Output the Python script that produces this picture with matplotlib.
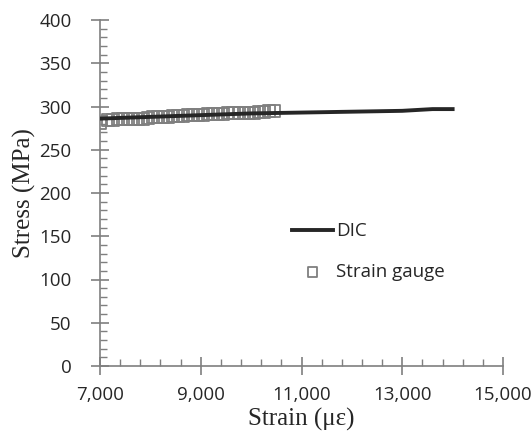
import numpy as np
import matplotlib.pyplot as plt
from matplotlib.ticker import FixedLocator, FuncFormatter

# DIC curve
dic_strain = [7000, 7500, 8000, 8500, 9000, 9500, 10000, 10500, 11000, 11500, 12000, 12500, 13000, 13300, 13600, 14000]
dic_stress = [286, 287, 288, 289, 290, 291, 292, 292.5, 293, 293.5, 294, 294.5, 295, 296, 297, 297]

# strain gauge readings
sg_strain = [7000, 7150, 7250, 7350, 7450, 7550, 7650, 7750, 7850, 7950, 8050, 8150, 8250, 8350,
             8450, 8550, 8650, 8750, 8850, 8950, 9050, 9150, 9250, 9350, 9450, 9550, 9650,
             9750, 9850, 9950, 10050, 10150, 10250, 10350, 10450]
sg_stress = [281, 284, 284, 285, 285, 285, 285, 286, 286, 287, 288, 288, 288, 288,
             289, 289, 289, 290, 290, 290, 290, 291, 291, 291, 291, 292, 292,
             292, 292, 292, 293, 294, 294, 295, 295]

x_major = [7000, 9000, 11000, 13000, 15000]

fig = plt.figure(figsize=(5.32, 4.42), dpi=100)
ax = fig.add_axes([100/532, 1 - 366/442, 403/532, 346/442])

ax.plot(dic_strain, dic_stress, color="#262626", lw=2.8, label="DIC", zorder=3)
ax.scatter(sg_strain, sg_stress, marker="s", s=75, facecolors="none", edgecolors="#7f7f7f",
           linewidths=1.3, label="Strain gauge", zorder=2)

ax.set_xlim(7000, 15000)
ax.set_ylim(0, 400)
ax.xaxis.set_major_locator(FixedLocator(x_major))
ax.xaxis.set_minor_locator(FixedLocator(np.arange(7000, 15001, 400)))
ax.yaxis.set_major_locator(FixedLocator(np.arange(0, 401, 50)))
ax.yaxis.set_minor_locator(FixedLocator(np.arange(0, 401, 10)))
ax.xaxis.set_major_formatter(FuncFormatter(lambda v, p: f"{int(v):,}"))

for s in ["top", "right"]:
    ax.spines[s].set_visible(False)
for s in ["left", "bottom"]:
    ax.spines[s].set_color("#7f7f7f")
    ax.spines[s].set_linewidth(1.2)

ax.tick_params(which="major", direction="inout", length=13, width=1.2, color="#7f7f7f",
               labelsize=13.5, labelcolor="#262626")
ax.tick_params(which="minor", direction="in", length=5, width=1, color="#7f7f7f")
ax.tick_params(axis="y", which="major", pad=14)
ax.tick_params(axis="x", which="major", pad=8)
for lab in ax.get_xticklabels() + ax.get_yticklabels():
    lab.set_fontfamily("Open Sans")

ax.set_xlabel("Strain (\u03bc\u03b5)", family="Liberation Serif", fontsize=18, labelpad=3,
              color="#262626")
ax.set_ylabel("Stress (MPa)", family="Liberation Serif", fontsize=18, labelpad=2,
              color="#262626")

ax.legend(loc="upper left", bbox_to_anchor=(0.476, 0.415), frameon=False, borderpad=0,
          borderaxespad=0, prop={"family": "Open Sans", "size": 13.5}, handlelength=2.2,
          handletextpad=0.15, labelspacing=1.2, markerscale=0.8, labelcolor="#262626")

fig.savefig("out.png", dpi=100)
